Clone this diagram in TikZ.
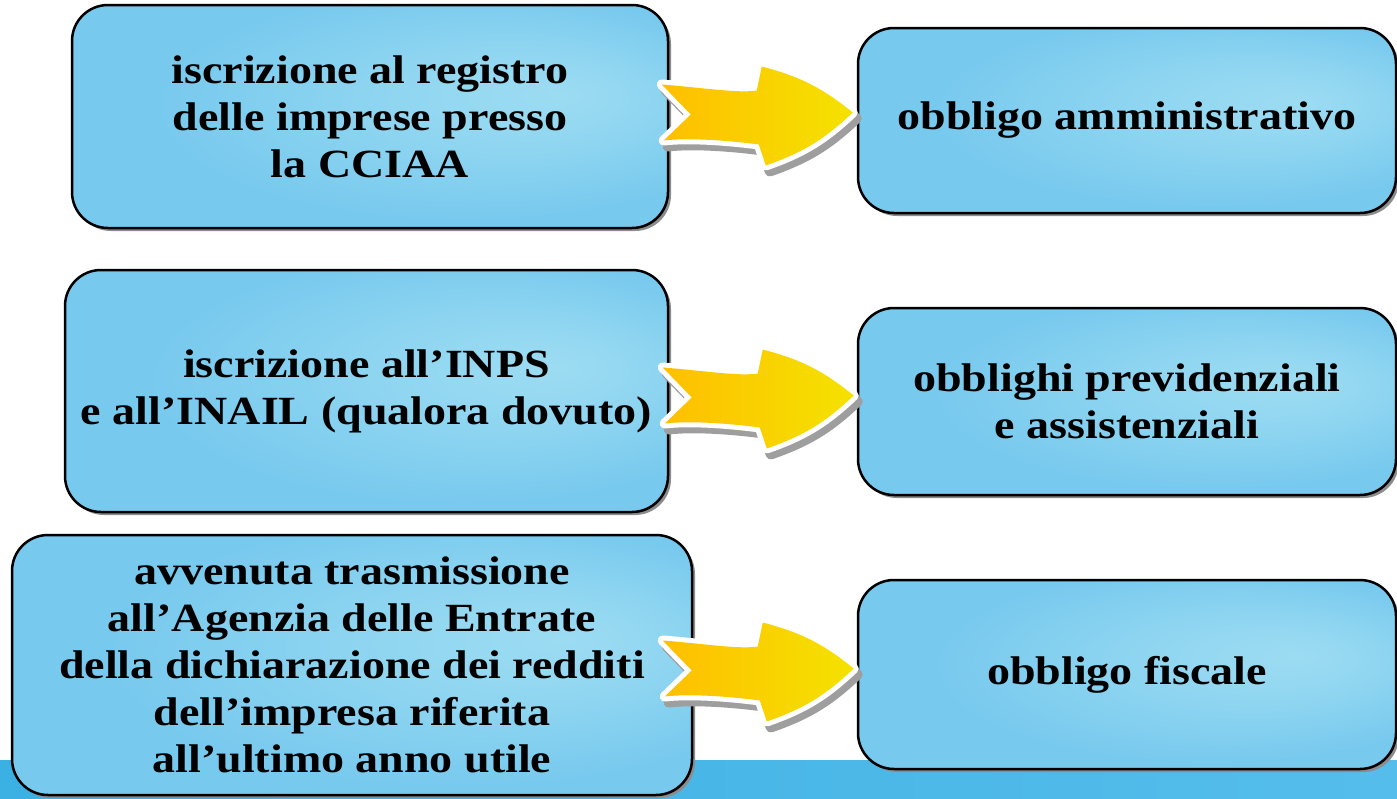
\documentclass[tikz,border=0pt]{standalone}
\usepackage{fontspec}
\setmainfont{Liberation Serif}[FakeStretch=1.15]
\usetikzlibrary{positioning, shadows, calc}
\definecolor{boxblue}{HTML}{77C9EE}
\definecolor{glowblue}{HTML}{9CDCF2}
\definecolor{bandblue}{HTML}{3BB0E3}
\definecolor{bandlight}{HTML}{55BDEB}
\definecolor{arroworange}{HTML}{FFBF00}
\definecolor{arrowyellow}{HTML}{F4E200}
\pgfdeclareradialshading{boxglow}{\pgfpoint{16bp}{5bp}}{color(0bp)=(glowblue); color(10bp)=(glowblue!70!boxblue); color(26bp)=(boxblue); color(50bp)=(boxblue)}
\newcommand{\arrowpath}{(-189,-28) .. controls (-150,-25) and (-112,-19) .. (-94,-22) -- (-89,-46) to[bend left=12] (2,0) to[bend left=12] (-85,53) -- (-92,32) .. controls (-122,28) and (-162,25) .. (-187,28) -- (-160,2) -- cycle}

\begin{document}
\begin{tikzpicture}[x=1pt, y=-1pt,
    obox/.style={draw=black, line width=2.5pt, rounded corners=36pt, shading=boxglow,
                 inner sep=0pt, align=center, font={\fontsize{40}{47}\selectfont\bfseries},
                 drop shadow={shadow xshift=3pt, shadow yshift=-3pt, fill=black!45, opacity=1}},
    arrowshadow/.style={fill=black!38, draw=black!38, line width=10pt, line join=round},
    arrowbody/.style={draw=white, line width=10pt, line join=round,
                      left color=arroworange, right color=arrowyellow},
    yarrow/.pic={
      \path[arrowshadow, shift={(4,6)}] \arrowpath;
      \path[arrowbody] \arrowpath;
      \path[left color=arroworange, right color=arrowyellow] \arrowpath;
    }]
  \useasboundingbox (0,0) rectangle (1397,798);
  % bottom band
  \fill[left color=bandblue, right color=bandlight] (0,760) rectangle (1397,798);

  % left column
  \node[obox, minimum width=596pt, minimum height=223pt] (a1) at (370,116.5)
    {iscrizione al registro\\delle imprese presso\\la CCIAA};
  \node[obox, minimum width=603pt, minimum height=242pt] (a2) at (366.5,391)
    {iscrizione all’INPS\\e all’INAIL (qualora dovuto)};
  \node[obox, minimum width=680pt, minimum height=260pt] (a3) at (352,665)
    {avvenuta trasmissione\\all’Agenzia delle Entrate\\della dichiarazione dei redditi\\dell’impresa riferita\\all’ultimo anno utile};

  % right column
  \node[obox, minimum width=538pt, minimum height=185pt] (b1) at (1127,120.5)
    {obbligo amministrativo};
  \node[obox, minimum width=538pt, minimum height=187pt] (b2) at (1127,401.5)
    {obblighi previdenziali\\e assistenziali};
  \node[obox, minimum width=538pt, minimum height=189pt] (b3) at (1127,674.5)
    {obbligo fiscale};

  % arrows
  \pic at ($(b1.west)+(-6,-8)$) {yarrow};
  \pic at ($(b2.west)+(-5,-6)$) {yarrow};
  \pic at ($(b3.west)+(-5,-6)$) {yarrow};
\end{tikzpicture}
\end{document}
